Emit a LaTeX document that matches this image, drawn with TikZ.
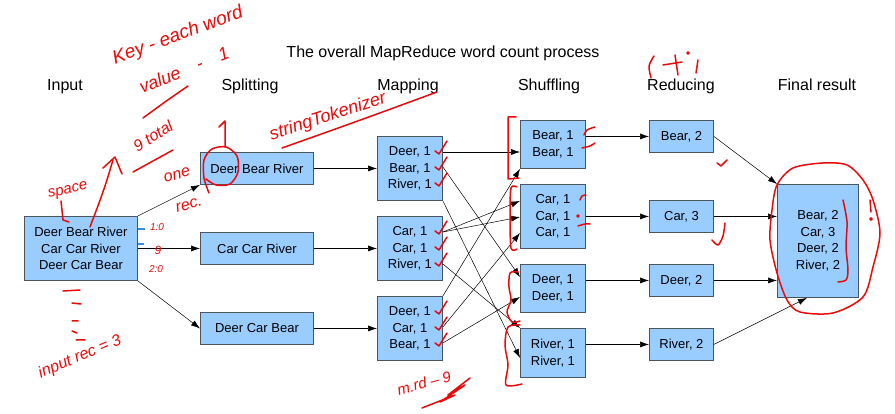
\documentclass[tikz,border=0pt]{standalone}
\usepackage{fontspec}
\setmainfont{Liberation Sans}
\usetikzlibrary{arrows.meta}
\definecolor{boxfill}{RGB}{153,204,255}
\definecolor{boxline}{RGB}{75,85,95}
\definecolor{ink}{RGB}{235,10,10}
\definecolor{blueink}{RGB}{60,140,230}
\begin{document}
\begin{tikzpicture}[x=1pt,y=-1pt,
  box/.style={draw=boxline,fill=boxfill,line width=0.9pt,inner sep=0pt,anchor=north west,align=center,font=\fontsize{13}{16.5}\selectfont},
  hdr/.style={font=\fontsize{16}{19}\selectfont,inner sep=0pt,anchor=base},
  conn/.style={line width=0.5pt,-{Latex[length=9pt,width=6pt]}},
  ink/.style={draw=ink,line width=1.5pt,line cap=round,line join=round},
  hand/.style={text=ink,font=\itshape\fontsize{16}{16}\selectfont,inner sep=0pt}]
\fill[white] (0,0) rectangle (895,414);
\useasboundingbox (0,0) rectangle (895,414);

% headers
\node[hdr] (title) at (443,58) {The overall MapReduce word count process};
\node[hdr] (hin) at (65,91) {Input};
\node[hdr] (hsp) at (250,91) {Splitting};
\node[hdr] (hma) at (408,91) {Mapping};
\node[hdr] (hsh) at (549,91) {Shuffling};
\node[hdr] (hre) at (681,91) {Reducing};
\node[hdr] (hfi) at (817,91) {Final result};

% boxes
\node[box,minimum width=113pt,minimum height=64pt] (in) at (24,216) {Deer Bear River\\Car Car River\\Deer Car Bear};
\node[box,minimum width=113pt,minimum height=32pt] (s1) at (200,152) {Deer Bear River};
\node[box,minimum width=113pt,minimum height=32pt] (s2) at (200,232) {Car Car River};
\node[box,minimum width=113pt,minimum height=32pt] (s3) at (200,312) {Deer Car Bear};
\node[box,minimum width=65pt,minimum height=64pt] (m1) at (377,136) {Deer, 1\\Bear, 1\\River, 1};
\node[box,minimum width=65pt,minimum height=64pt] (m2) at (377,216) {Car, 1\\Car, 1\\River, 1};
\node[box,minimum width=65pt,minimum height=64pt] (m3) at (377,296) {Deer, 1\\Car, 1\\Bear, 1};
\node[box,minimum width=65pt,minimum height=48pt] (sh1) at (520,120) {Bear, 1\\Bear, 1};
\node[box,minimum width=65pt,minimum height=64pt] (sh2) at (520,184) {Car, 1\\Car, 1\\Car, 1};
\node[box,minimum width=65pt,minimum height=48pt] (sh3) at (520,264) {Deer, 1\\Deer, 1};
\node[box,minimum width=65pt,minimum height=49pt] (sh4) at (520,328) {River, 1\\River, 1};
\node[box,minimum width=64pt,minimum height=32pt] (r1) at (649,120) {Bear, 2};
\node[box,minimum width=64pt,minimum height=32pt] (r2) at (649,200) {Car, 3};
\node[box,minimum width=64pt,minimum height=32pt] (r3) at (649,264) {Deer, 2};
\node[box,minimum width=64pt,minimum height=32pt] (r4) at (649,328) {River, 2};
\node[box,minimum width=81pt,minimum height=113pt] (f) at (777,184) {Bear, 2\\Car, 3\\Deer, 2\\River, 2};

% connectors
\draw[conn] (in.north east) -- (s1.south west);
\draw[conn] (in.east) -- (s2.west);
\draw[conn] (in.south east) -- (s3.west);
\draw[conn] (s1.east) -- (m1.west);
\draw[conn] (s2.east) -- (m2.west);
\draw[conn] (s3.east) -- (m3.west);
\draw[conn] ([yshift=-16pt]m1.north east) -- ([yshift=-32pt]sh1.north west);
\draw[conn] ([yshift=-31pt]m1.north east) -- ([yshift=-13pt]sh3.north west);
\draw[conn] (m1.south east) -- ([yshift=-30pt]sh4.north west);
\draw[conn] ([yshift=-16pt]m2.north east) -- ([yshift=-17pt]sh2.north west);
\draw[conn] ([yshift=-16pt]m2.north east) -- ([yshift=-33pt]sh2.north west);
\draw[conn] ([yshift=-48pt]m2.north east) -- (sh4.north west);
\draw[conn] (m3.north east) -- (sh1.south west);
\draw[conn] ([yshift=-31pt]m3.north east) -- ([yshift=-49pt]sh2.north west);
\draw[conn] ([yshift=-47pt]m3.north east) -- ([yshift=-33pt]sh3.north west);
\draw[conn] (sh1.east |- r1.west) -- (r1.west);
\draw[conn] (sh2.east) -- (r2.west);
\draw[conn] (sh3.east |- r3.west) -- (r3.west);
\draw[conn] (sh4.east |- r4.west) -- (r4.west);
\draw[conn] (r1.east) -- (f.north west);
\draw[conn] (r2.east) -- (f.west |- r2.east);
\draw[conn] (r3.east) -- (f.west |- r3.east);
\draw[conn] (r4.east) -- ([xshift=30pt]f.south west);

% handwritten annotations
\node[hand,font=\itshape\fontsize{19}{19}\selectfont,rotate=20] (a1) at (178,36) {Key - each word};
\node[hand,font=\itshape\fontsize{18}{18}\selectfont,rotate=22] (a2) at (184,70) {value\quad -\quad 1};
\draw[ink] plot[smooth] coordinates {(143,118) (165,102) (188,86)};
\node[hand,font=\itshape\fontsize{16}{16}\selectfont,rotate=32] (a3) at (153,136) {9 total};
\draw[ink] (133,172) -- (173,150);
\draw[ink] plot[smooth] coordinates {(90,227) (99,203) (106,183) (113,160)};
\draw[ink] (103,168) -- (115,157) -- (122,174);
\node[hand,font=\itshape\fontsize{15}{15}\selectfont,rotate=12] (a4) at (68,191) {space};
\draw[ink] (61,201) -- (63,220) -- (69,222);
\draw[ink] plot[smooth] coordinates {(209,193) (204,178) (204,160) (212,149) (226,147) (237,156) (238,172) (230,184) (216,185) (206,179)};
\draw[ink] (225,147) -- (225,122) (219,127) -- (225,121);
\node[hand,font=\itshape\fontsize{16}{16}\selectfont,rotate=15] (a5) at (177,175) {one};
\node[hand,font=\itshape\fontsize{16}{16}\selectfont,rotate=15] (a6) at (189,205) {rec.};
\node[hand,font=\itshape\fontsize{18}{18}\selectfont,rotate=18] (a7) at (328,117) {stringTokenizer};
\draw[ink] plot[smooth] coordinates {(282,148) (327,132) (377,114) (437,92)};
\node[hand,font=\itshape\fontsize{10}{10}\selectfont] (a8) at (157,227) {1:0};
\node[hand,font=\itshape\fontsize{12}{12}\selectfont] (a9) at (158,250) {9};
\node[hand,font=\itshape\fontsize{10}{10}\selectfont] (a10) at (156,269) {2:0};
\draw[draw=blueink,line width=1.5pt] (138,229) -- (145,229) (138,244) -- (144,244);
\draw[ink] (63,291) -- (80,290) (72,303) -- (81,304) (72,321) -- (78,321) (72,331) -- (77,333) (76,340) -- (85,340);
\node[hand,font=\itshape\fontsize{16}{16}\selectfont,rotate=23] (a11) at (80,357) {input rec = 3};
\node[hand,font=\itshape\fontsize{15}{15}\selectfont,rotate=15] (a12) at (424,383) {m.rd -- 9};
\draw[ink] (422,408) -- (455,395) -- (440,402) -- (465,385) -- (448,395) -- (470,378);
% ticks on mapping rows
\foreach \yy in {151,167,183,231,247,263,311,327,343}
  \draw[ink] (435,\yy) -- (439,\yy+3) -- (447,\yy-10);
% brackets around shuffle boxes
\draw[ink] (516,117) -- (508,117) -- (508,179) -- (519,178);
\draw[ink] plot[smooth] coordinates {(517,187) (511,188) (510,215) (511,248) (517,249)};
\draw[ink] plot[smooth] coordinates {(518,272) (510,273) (509,287) (511,300) (507,312) (512,322) (520,321)};
\draw[ink] plot[smooth] coordinates {(520,325) (508,327) (505,345) (508,365) (506,385) (522,384)};
\draw[ink] plot[smooth] coordinates {(584,135) (587,130) (595,127)};
\draw[ink] plot[smooth] coordinates {(582,148) (590,146) (595,143)};
\draw[ink] plot[smooth] coordinates {(580,200) (582,196) (586,195)};
\fill[ink] (578,216) circle (1);
\draw[ink] plot[smooth] coordinates {(578,226) (585,224) (590,224)};
% reducing marks
\draw[ink] (717,163) -- (721,166) -- (727,160);
\draw[ink] plot[smooth] coordinates {(712,240) (718,245) (723,236) (725,223)};
\draw[ink] plot[smooth] coordinates {(654,56) (649,66) (651,78)};
\draw[ink] (663,65) -- (682,62) (675,55) -- (678,75);
\draw[ink] (698,60) -- (696,73);
\fill[ink] (688,53) circle (1);
% final result marks
\draw[ink] plot[smooth cycle] coordinates {(777,185) (793,168) (823,163) (847,165) (863,180) (873,200) (880,233) (873,267) (863,297) (833,313) (800,312) (787,300) (777,273) (770,240) (772,210)};
\draw[ink] plot[smooth] coordinates {(843,200) (847,222) (846,247) (848,270) (846,280) (838,282)};
\draw[ink] (870,200) -- (871,212);
\fill[ink] (871,219) circle (1.2);
\end{tikzpicture}
\end{document}
